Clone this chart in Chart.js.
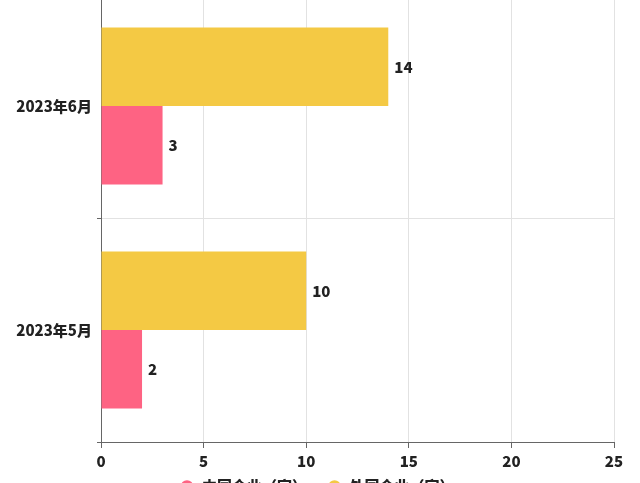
<!DOCTYPE html>
<html>
<head>
<meta charset="utf-8">
<script src="https://cdn.jsdelivr.net/npm/chart.js@4.4.0/dist/chart.umd.min.js"></script>
<style>
    html, body { margin: 0; padding: 0; background: #fff; overflow: hidden; }
    #wrap { position: absolute; left: 0; top: -20px; width: 640px; height: 535px; }
</style>
</head>
<body>
<div id="wrap"><canvas id="chart"></canvas></div>
<script>
// datos del gráfico
const categories = ['2023年6月', '2023年5月'];
const foreignValues = [14, 10];
const chinaValues = [3, 2];
const seriesNames = ['外国企业（家）', '中国企业（家）'];
const xMax = 25;
const xStep = 5;

const FONT = "'Noto Sans CJK SC', 'Noto Sans', sans-serif";
const WEIGHT = 900;

// etiquetas de valor a la derecha de cada barra
const valueLabels = {
    id: 'valueLabels',
    afterDatasetsDraw(chart) {
        const ctx = chart.ctx;
        ctx.save();
        ctx.font = WEIGHT + ' 15px ' + FONT;
        ctx.fillStyle = '#222';
        ctx.textAlign = 'left';
        ctx.textBaseline = 'middle';
        chart.data.datasets.forEach((ds, i) => {
            chart.getDatasetMeta(i).data.forEach((bar, j) => {
                ctx.fillText(ds.data[j], bar.x + 6, bar.y);
            });
        });
        ctx.restore();
    }
};

// acercar la leyenda al eje y centrarla un poco a la derecha
const legendShift = {
    id: 'legendShift',
    afterLayout(chart) {
        const lg = chart.legend;
        lg.top -= 11; lg.bottom -= 11;
        lg.left += 10; lg.right += 10;
    }
};

new Chart(document.getElementById('chart').getContext('2d'), {
    type: 'bar',
    data: {
        labels: categories,
        datasets: [{
            label: seriesNames[0],
            data: foreignValues,
            backgroundColor: '#f4c944',
            categoryPercentage: 0.7,
            barPercentage: 1.0
        }, {
            label: seriesNames[1],
            data: chinaValues,
            backgroundColor: '#fe6383',
            categoryPercentage: 0.7,
            barPercentage: 1.0
        }]
    },
    options: {
        indexAxis: 'y',
        responsive: true,
        maintainAspectRatio: false,
        animation: false,
        layout: { padding: { top: 9, right: 26, left: 0, bottom: 0 } },
        scales: {
            x: {
                min: 0,
                max: xMax,
                ticks: { stepSize: xStep, color: '#222', font: { family: FONT, size: 15, weight: WEIGHT }, padding: 4 },
                grid: { color: '#e2e2e2', tickColor: '#666', tickLength: 6 },
                border: { color: '#666' },
                afterFit(scale) { scale.height = 28; }
            },
            y: {
                ticks: { color: '#222', font: { family: FONT, size: 15, weight: WEIGHT }, padding: 5 },
                grid: { color: '#e2e2e2', tickColor: '#666', tickLength: 4 },
                border: { color: '#666' },
                afterFit(scale) { scale.width = 101; }
            }
        },
        plugins: {
            legend: {
                position: 'bottom',
                reverse: true,
                labels: {
                    usePointStyle: true,
                    pointStyle: 'circle',
                    boxHeight: 9,
                    color: '#222',
                    padding: 20,
                    font: { family: FONT, size: 15, weight: WEIGHT }
                }
            },
            tooltip: { enabled: false }
        }
    },
    plugins: [valueLabels, legendShift]
});
</script>
</body>
</html>
